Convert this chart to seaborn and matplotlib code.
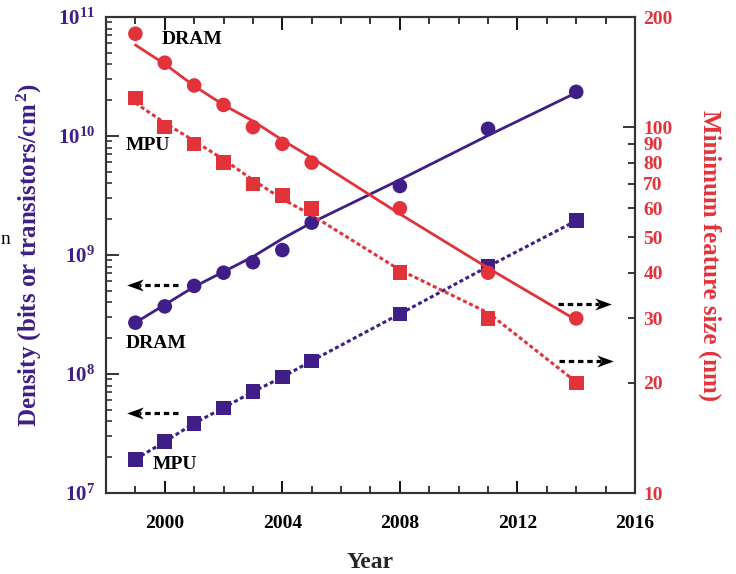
import matplotlib
matplotlib.use("Agg")
import matplotlib.pyplot as plt
import matplotlib.ticker as mticker
from matplotlib.path import Path
import seaborn as sns
import pandas as pd

# ---------------- data ----------------
years = [1999, 2000, 2001, 2002, 2003, 2004, 2005, 2008, 2011, 2014]

dram_density = [2.7e8, 3.7e8, 5.5e8, 7.1e8, 8.7e8, 1.1e9, 1.87e9, 3.8e9, 1.15e10, 2.35e10]
mpu_density = [1.92e7, 2.7e7, 3.85e7, 5.2e7, 7.1e7, 9.4e7, 1.29e8, 3.2e8, 8.0e8, 1.94e9]
dram_feature = [180, 150, 130, 115, 100, 90, 80, 60, 40, 30]
mpu_feature = [120, 100, 90, 80, 70, 65, 60, 40, 30, 20]

# trend lines as drawn in the picture
dram_density_trend = [2.70e8, 3.82e8, 5.41e8, 7.23e8, 9.68e8, 1.37e9, 1.87e9, 4.29e9, 1.01e10, 2.31e10]
mpu_density_trend = mpu_density
dram_feature_trend = [167.7, 148.8, 129.6, 115.0, 103.9, 92.2, 82.4, 57.9, 41.2, 29.7]
mpu_feature_trend = [116.4, 102.7, 91.7, 81.6, 71.7, 63.6, 57.5, 40.7, 31.1, 20.1]

x_ticks = [2000, 2004, 2008, 2012, 2016]
left_ticks = [1e7, 1e8, 1e9, 1e10, 1e11]
left_labels = [r"$\mathbf{10^{7}}$", r"$\mathbf{10^{8}}$", r"$\mathbf{10^{9}}$",
               r"$\mathbf{10^{10}}$", r"$\mathbf{10^{11}}$"]
right_major = [10, 100]
right_minor = [20, 30, 40, 50, 60, 70, 80, 90, 200]

PURPLE = "#3F1E87"
RED = "#E2333B"

df = pd.DataFrame({
    "year": years,
    "dram_density": dram_density, "mpu_density": mpu_density,
    "dram_feature": dram_feature, "mpu_feature": mpu_feature,
    "dram_density_trend": dram_density_trend, "mpu_density_trend": mpu_density_trend,
    "dram_feature_trend": dram_feature_trend, "mpu_feature_trend": mpu_feature_trend,
})

sns.set_style("ticks")
plt.rcParams["font.family"] = ["Liberation Serif", "DejaVu Serif"]
plt.rcParams["font.weight"] = "bold"
plt.rcParams["mathtext.fontset"] = "custom"
plt.rcParams["mathtext.rm"] = "Liberation Serif:bold"
plt.rcParams["mathtext.bf"] = "Liberation Serif:bold"
plt.rcParams["mathtext.it"] = "Liberation Serif:bold:italic"

fig = plt.figure(figsize=(7.36, 5.74), dpi=100)
ax = fig.add_axes([106 / 736, 1 - 493 / 574, 529 / 736, 476 / 574])
ax2 = ax.twinx()

dotted = (0, (1.3, 0.9))
msize = 110

# left axis: density
sns.lineplot(data=df, x="year", y="dram_density_trend", ax=ax, color=PURPLE, lw=2.0,
             linestyle="-", legend=False)
sns.lineplot(data=df, x="year", y="mpu_density_trend", ax=ax, color=PURPLE, lw=2.2,
             linestyle=dotted, legend=False)
sns.scatterplot(data=df, x="year", y="dram_density", ax=ax, color=PURPLE, marker="o",
                s=msize, edgecolor="none", legend=False, zorder=5)
sns.scatterplot(data=df, x="year", y="mpu_density", ax=ax, color=PURPLE, marker="s",
                s=msize, edgecolor="none", legend=False, zorder=5)

# right axis: feature size
sns.lineplot(data=df, x="year", y="dram_feature_trend", ax=ax2, color=RED, lw=2.0,
             linestyle="-", legend=False)
sns.lineplot(data=df, x="year", y="mpu_feature_trend", ax=ax2, color=RED, lw=2.2,
             linestyle=dotted, legend=False)
sns.scatterplot(data=df, x="year", y="dram_feature", ax=ax2, color=RED, marker="o",
                s=msize, edgecolor="none", legend=False, zorder=5)
sns.scatterplot(data=df, x="year", y="mpu_feature", ax=ax2, color=RED, marker="s",
                s=msize, edgecolor="none", legend=False, zorder=5)

# scales and limits
ax.set_xlim(1998, 2016)
ax.set_yscale("log")
ax.set_ylim(1e7, 1e11)
ax2.set_yscale("log")
ax2.set_ylim(10, 200)

# x ticks
ax.set_xticks(x_ticks)
ax.set_xticklabels([str(v) for v in x_ticks], fontsize=14, fontweight="bold")
ax.xaxis.set_minor_locator(mticker.MultipleLocator(1))
ax.tick_params(axis="x", which="major", direction="in", length=9, width=1.3,
               top=True, pad=16, colors="black")
ax.tick_params(axis="x", which="minor", direction="in", length=5, width=1.3, top=True)

# left y ticks
ax.set_yticks(left_ticks)
ax.set_yticklabels(left_labels, fontsize=15, color=PURPLE)
ax.yaxis.set_minor_locator(mticker.LogLocator(base=10, subs=range(2, 10), numticks=20))
ax.yaxis.set_minor_formatter(mticker.NullFormatter())
ax.tick_params(axis="y", which="major", direction="in", length=9, width=1.3,
               pad=8, right=False)
ax.tick_params(axis="y", which="minor", direction="in", length=4, width=1.1, right=False)

# right y ticks
ax2.yaxis.set_major_locator(mticker.FixedLocator(right_major))
ax2.yaxis.set_major_formatter(mticker.FixedFormatter([str(v) for v in right_major]))
ax2.yaxis.set_minor_locator(mticker.FixedLocator(right_minor))
ax2.yaxis.set_minor_formatter(mticker.FixedFormatter([str(v) for v in right_minor]))
ax2.tick_params(axis="y", which="major", direction="in", length=9, width=1.3, pad=6,
                labelsize=14, labelcolor=RED)
ax2.tick_params(axis="y", which="minor", direction="in", length=5, width=1.3, pad=6,
                labelsize=14, labelcolor=RED)
for lab in ax2.get_yticklabels(minor=False) + ax2.get_yticklabels(minor=True):
    lab.set_fontweight("bold")

for a in (ax, ax2):
    for sp in a.spines.values():
        sp.set_linewidth(1.5)
        sp.set_color("#333333")
        sp.set_visible(True)

# axis labels
ax.set_xlabel("Year", fontsize=17, fontweight="bold")
ax.set_ylabel("Density (bits or transistors/cm$^{\\,2}$)", fontsize=18, fontweight="bold",
              color=PURPLE)
ax2.set_ylabel("Minimum feature size (nm)", fontsize=18, fontweight="bold", color=RED,
               rotation=270)
ax.xaxis.set_label_coords(0.5, -0.125)
ax.yaxis.set_label_coords(-0.118, 0.50)
ax2.yaxis.set_label_coords(1.164, 0.498)

# annotations
txt = dict(fontsize=14, fontweight="bold", color="black", ha="center", va="center")
ax.text(0.163, 0.952, "DRAM", transform=ax.transAxes, **txt)
ax.text(0.080, 0.731, "MPU", transform=ax.transAxes, **txt)
ax.text(0.095, 0.315, "DRAM", transform=ax.transAxes, **txt)
ax.text(0.130, 0.059, "MPU", transform=ax.transAxes, **txt)

# dashed arrows with stealth-like heads
stealth_left = Path([(-1.0, 0.0), (1.0, 0.72), (0.4, 0.0), (1.0, -0.72), (-1.0, 0.0)],
                    [Path.MOVETO, Path.LINETO, Path.LINETO, Path.LINETO, Path.CLOSEPOLY])
stealth_right = Path([(1.0, 0.0), (-1.0, 0.72), (-0.4, 0.0), (-1.0, -0.72), (1.0, 0.0)],
                     [Path.MOVETO, Path.LINETO, Path.LINETO, Path.LINETO, Path.CLOSEPOLY])
head = 16 / 529  # head length in axes fraction
arrows = [  # (tail x, tip x, y) in axes fraction
    (0.136, 0.040, 0.437), (0.136, 0.040, 0.168),
    (0.855, 0.955, 0.397), (0.857, 0.959, 0.277),
]
for (x0, x1, y) in arrows:
    d = 1 if x1 > x0 else -1
    back = x1 - d * head * 0.75
    ax2.plot([x0, back], [y, y], transform=ax2.transAxes, color="black", lw=2.3,
             linestyle=(0, (1.7, 1.2)), solid_capstyle="butt", dash_capstyle="butt",
             clip_on=False)
    ax2.plot([x1 - d * head / 2], [y], transform=ax2.transAxes, color="black",
             marker=stealth_right if d > 0 else stealth_left, markersize=12,
             markeredgewidth=0, linestyle="none", clip_on=False)

fig.text(0.001, 1 - 240 / 574, "n", fontsize=14, color="black", ha="left", va="center",
         fontweight="normal")

fig.savefig("out.png", dpi=100)
